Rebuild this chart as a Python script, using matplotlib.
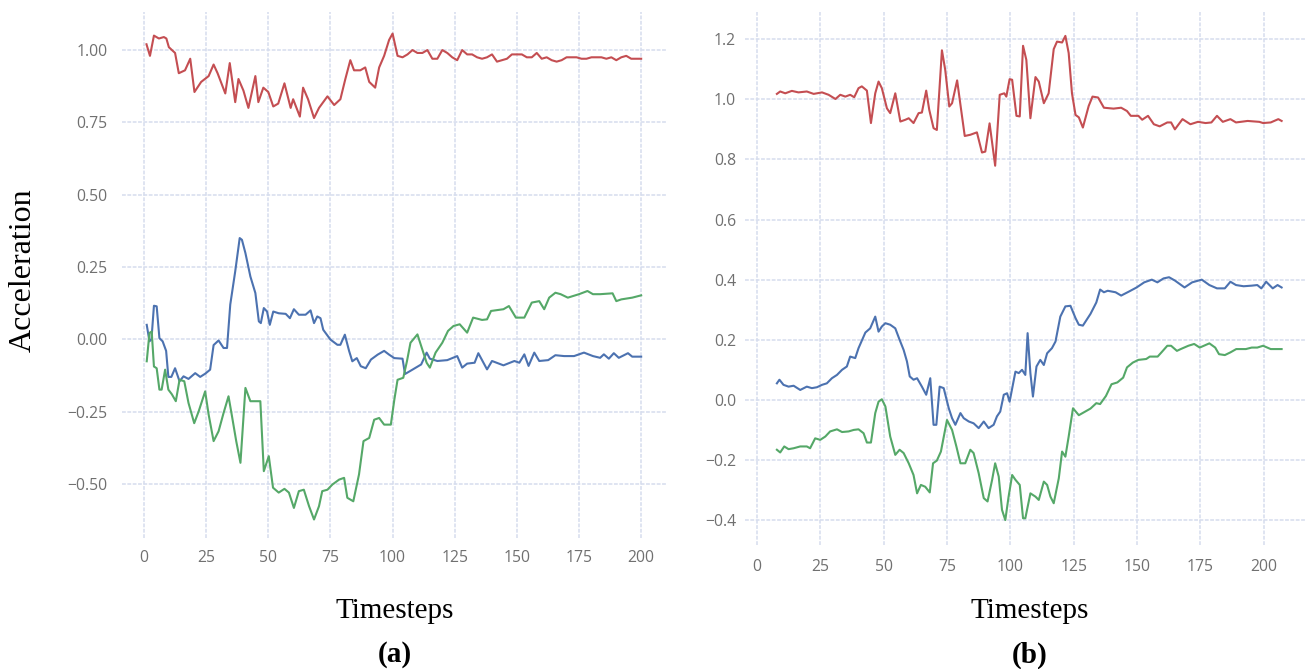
"""
Acceleration over timesteps, two episodes side by side (a) and (b).
"""

import numpy as np
import matplotlib
matplotlib.use("Agg")
import matplotlib.pyplot as plt

# ──────────────────────────────────────────────
# CONFIG
# ──────────────────────────────────────────────

FIG_W, FIG_H, DPI = 13.09, 6.69, 100

COL_RED   = "#c44e52"
COL_BLUE  = "#4c72b0"
COL_GREEN = "#55a868"
GRID_COL  = "#d6ddee"
TICK_COL  = "#707070"
LINE_W    = 1.5
TICK_SIZE = 11.3
SERIF     = "Liberation Serif"

X_TICKS = [0, 25, 50, 75, 100, 125, 150, 175, 200]
Y_TICKS_A = [-0.5, -0.25, 0.0, 0.25, 0.5, 0.75, 1.0]
Y_TICKS_B = [-0.4, -0.2, 0.0, 0.2, 0.4, 0.6, 0.8, 1.0, 1.2]

# ──────────────────────────────────────────────
# DATA  (a)
# ──────────────────────────────────────────────

a_red_t = [1, 2.4, 4, 6, 8, 9, 10, 12.5, 14, 16.5, 18.6, 20.3, 23, 26, 28, 29.6,
           32.7, 34.5, 36.7, 38, 40, 42, 44.8, 46, 48, 50, 52, 54, 56.5, 59, 60,
           62.7, 64, 66, 68.4, 70.4, 73.8, 76.5, 79, 81, 83, 84.5, 87, 89, 90.6,
           93, 94.6, 96.6, 98.6, 100, 102, 104, 106, 108, 110, 112, 114, 116, 118,
           120, 122, 124, 126, 128, 130, 132, 134, 136, 138, 140, 142, 144, 146,
           148, 150, 152, 154, 156, 158, 160, 162, 164, 166, 168, 170, 172, 174,
           176, 178, 180, 182, 184, 186, 188, 190, 192, 194, 196, 198, 200]
a_red = [1.02, 0.98, 1.05, 1.04, 1.045, 1.04, 1.01, 0.99, 0.92, 0.93, 0.97, 0.855,
         0.89, 0.91, 0.95, 0.92, 0.85, 0.955, 0.82, 0.90, 0.86, 0.80, 0.91, 0.82,
         0.87, 0.855, 0.805, 0.815, 0.885, 0.80, 0.83, 0.77, 0.87, 0.83, 0.765,
         0.80, 0.84, 0.81, 0.83, 0.90, 0.965, 0.93, 0.93, 0.94, 0.89, 0.87, 0.94,
         0.98, 1.035, 1.057, 0.98, 0.975, 0.985, 1.0, 0.99, 0.99, 1.0, 0.97, 0.97,
         1.0, 0.99, 0.975, 0.965, 1.0, 0.985, 0.985, 0.975, 0.97, 0.975, 0.985,
         0.96, 0.965, 0.97, 0.985, 0.985, 0.985, 0.975, 0.975, 0.99, 0.97, 0.975,
         0.965, 0.96, 0.965, 0.975, 0.975, 0.975, 0.97, 0.97, 0.975, 0.975, 0.975,
         0.97, 0.975, 0.965, 0.975, 0.98, 0.97, 0.97, 0.97]

a_blue_t = [1.1, 2.2, 3, 4, 5.1, 6.2, 7.5, 8.9, 9.8, 11, 12.5, 14.3, 15.9, 17.9,
            20.6, 22.6, 24.6, 26.6, 28, 30, 32, 33.4, 34.7, 36.7, 38.5, 39.4, 40.8,
            42.8, 44.8, 46.2, 47, 48.2, 49.5, 50.6, 52, 54.2, 57, 58.7, 60.3, 62.3,
            65, 67, 68.4, 69.7, 71, 72.1, 75, 77.8, 79, 80.8, 82.5, 83.8, 85.6, 87.2,
            89.2, 91.3, 94, 96.6, 98.6, 100.7, 104, 105, 107, 111.5, 113.7, 115, 118,
            122, 126, 128, 130, 133, 134.5, 138, 140, 144.6, 149, 151, 153, 154.7,
            157, 159, 162.6, 165.5, 169, 173, 177, 180.6, 183.5, 185, 187, 189, 191,
            194.7, 196.4, 200]
a_blue = [0.05, -0.007, 0.0, 0.116, 0.114, 0.004, -0.007, -0.04, -0.13, -0.13,
          -0.10, -0.145, -0.128, -0.137, -0.117, -0.13, -0.119, -0.105, -0.02,
          -0.004, -0.03, -0.03, 0.12, 0.235, 0.35, 0.344, 0.298, 0.217, 0.16, 0.062,
          0.056, 0.108, 0.096, 0.05, 0.096, 0.09, 0.088, 0.073, 0.104, 0.085, 0.085,
          0.10, 0.056, 0.079, 0.073, 0.033, -0.001, -0.019, -0.019, 0.016, -0.04,
          -0.076, -0.065, -0.093, -0.10, -0.07, -0.053, -0.04, -0.053, -0.065,
          -0.067, -0.12, -0.11, -0.087, -0.046, -0.067, -0.075, -0.072, -0.058,
          -0.098, -0.084, -0.081, -0.048, -0.104, -0.075, -0.09, -0.075, -0.081,
          -0.052, -0.092, -0.046, -0.075, -0.072, -0.055, -0.058, -0.058, -0.046,
          -0.058, -0.064, -0.052, -0.067, -0.048, -0.064, -0.048, -0.06, -0.06]

a_green_t = [1.1, 2.2, 3.1, 4, 5.1, 6.2, 7.1, 8.5, 9.8, 11.2, 12.8, 14.3, 16.2, 17.9,
             20.2, 22, 24.6, 26, 28, 30, 32, 34, 35.4, 37.1, 38.8, 40.8, 42.8, 46.8,
             48.2, 50.2, 51.9, 54.2, 56.5, 58.3, 60.3, 62.3, 64.3, 66.4, 68.4, 70.4,
             71.7, 73.8, 75.8, 78.5, 80.5, 81.8, 84.2, 86.5, 88.3, 90.6, 92.6, 94.6,
             96.6, 99.3, 100.7, 102, 104.3, 105.8, 107.2, 110, 111.5, 113.7, 115,
             117.3, 120, 122.3, 124.5, 127, 130, 132.4, 136, 138, 139.6, 144.6, 146.8,
             149.6, 153, 156, 159, 161, 163, 165.5, 167.6, 170.5, 175, 178.4, 180.6,
             183.5, 188.5, 190, 192, 196.4, 200]
a_green = [-0.076, 0.022, 0.027, -0.094, -0.10, -0.174, -0.174, -0.105, -0.174,
           -0.19, -0.214, -0.14, -0.145, -0.22, -0.29, -0.249, -0.18, -0.26, -0.352,
           -0.318, -0.255, -0.197, -0.266, -0.352, -0.427, -0.168, -0.214, -0.214,
           -0.456, -0.404, -0.513, -0.53, -0.517, -0.53, -0.583, -0.525, -0.52,
           -0.577, -0.623, -0.577, -0.525, -0.52, -0.502, -0.485, -0.479, -0.548,
           -0.56, -0.467, -0.352, -0.341, -0.278, -0.272, -0.295, -0.295, -0.209,
           -0.14, -0.133, -0.075, -0.012, 0.017, -0.023, -0.081, -0.098, -0.046,
           -0.012, 0.029, 0.046, 0.052, 0.023, 0.075, 0.067, 0.069, 0.098, 0.104,
           0.115, 0.075, 0.075, 0.127, 0.132, 0.104, 0.144, 0.161, 0.156, 0.144,
           0.156, 0.167, 0.156, 0.156, 0.159, 0.132, 0.138, 0.144, 0.152]

# ──────────────────────────────────────────────
# DATA  (b)
# ──────────────────────────────────────────────

b_red_t = [7.9, 9.2, 11.2, 13.8, 16.4, 19.7, 22.4, 25.7, 28.3, 31, 32.9, 34.9, 36.8,
           38.4, 40.1, 41.4, 43.4, 45, 46.7, 48, 49.3, 51.3, 52.6, 54.6, 56.6, 58.6,
           59.9, 61.8, 63.8, 65.1, 66.8, 68, 69.7, 71, 73, 74.3, 75.9, 77, 79, 80.3,
           82, 84.2, 86.8, 88.8, 90.1, 91.8, 94, 95.8, 97.6, 98.4, 99.7, 100.7,
           102.4, 103.7, 105, 106.3, 107.9, 109.9, 111.2, 113.2, 115.1, 117.1, 118.4,
           120.4, 121.7, 123, 124.3, 125.7, 127, 128.6, 130.9, 132.4, 134.6, 136.9,
           140.7, 143.7, 146, 147.5, 150.5, 152, 154.3, 156.6, 158.9, 161.9, 163.4,
           164.9, 167.9, 171, 174, 177, 179.3, 181.5, 183.8, 186.8, 189, 193.6,
           198.2, 199.7, 202.7, 205.7, 207]
b_red = [1.018, 1.026, 1.02, 1.028, 1.023, 1.026, 1.018, 1.023, 1.015, 1.001, 1.015,
         1.009, 1.015, 1.007, 1.037, 1.043, 1.029, 0.921, 1.02, 1.059, 1.037, 0.97,
         0.954, 1.02, 0.926, 0.932, 0.937, 0.921, 0.954, 0.956, 1.029, 0.965, 0.904,
         0.898, 1.163, 1.098, 0.976, 0.987, 1.063, 0.982, 0.878, 0.882, 0.89, 0.823,
         0.826, 0.92, 0.779, 1.015, 1.02, 1.009, 1.067, 1.065, 0.945, 0.943, 1.178,
         1.131, 0.937, 1.074, 1.059, 0.987, 1.02, 1.167, 1.192, 1.189, 1.211, 1.154,
         1.02, 0.948, 0.94, 0.906, 0.978, 1.009, 1.006, 0.972, 0.969, 0.972, 0.961,
         0.945, 0.945, 0.932, 0.945, 0.917, 0.91, 0.923, 0.923, 0.90, 0.934, 0.917,
         0.925, 0.921, 0.923, 0.945, 0.925, 0.934, 0.923, 0.928, 0.925, 0.921, 0.923,
         0.934, 0.928]

b_blue_t = [7.9, 8.9, 10.5, 12.5, 14.5, 17.1, 19.7, 21.7, 23.7, 25.7, 27.6, 29.6,
            31.6, 33.6, 35.5, 36.8, 38.8, 40.1, 42.8, 44.7, 46.7, 48, 49.3, 50.7,
            52.6, 54.6, 56.3, 57.9, 59.2, 60.3, 61.8, 63.2, 65.1, 66.8, 68.4, 69.7,
            70.8, 72.1, 73.7, 75.7, 77, 78.3, 80.3, 81.6, 83.6, 85.5, 87.5, 89.5,
            91.4, 93.4, 94.7, 96, 97.4, 98.7, 99.7, 102, 103.3, 104.6, 105.9, 106.8,
            107.9, 108.9, 110.3, 111.8, 113.2, 114.5, 116.4, 117.8, 119.7, 121.7,
            123.7, 125.7, 127, 128.6, 131.6, 133.9, 135.4, 136.9, 138.4, 141.5,
            143.7, 146.7, 149.8, 152.8, 155.8, 158, 160.4, 162.6, 164.9, 168.7,
            171.7, 175.5, 178.5, 181.5, 184.6, 186.8, 189, 192, 195.2, 197.4, 199,
            200.9, 203.5, 205.4, 207]
b_blue = [0.055, 0.067, 0.05, 0.044, 0.047, 0.033, 0.044, 0.039, 0.042, 0.05, 0.055,
          0.072, 0.083, 0.10, 0.111, 0.144, 0.139, 0.172, 0.224, 0.238, 0.277, 0.227,
          0.244, 0.255, 0.25, 0.238, 0.20, 0.166, 0.128, 0.078, 0.067, 0.072, 0.044,
          0.017, 0.072, -0.083, -0.083, 0.044, 0.039, -0.028, -0.061, -0.083,
          -0.044, -0.061, -0.072, -0.078, -0.094, -0.072, -0.094, -0.083, -0.055,
          -0.039, 0.017, 0.022, -0.006, 0.094, 0.089, 0.10, 0.083, 0.222, 0.089,
          0.011, 0.111, 0.133, 0.116, 0.155, 0.172, 0.194, 0.277, 0.311, 0.313,
          0.272, 0.25, 0.247, 0.286, 0.324, 0.367, 0.358, 0.363, 0.358, 0.347, 0.36,
          0.374, 0.391, 0.40, 0.391, 0.404, 0.408, 0.397, 0.374, 0.391, 0.40, 0.382,
          0.371, 0.371, 0.393, 0.382, 0.378, 0.38, 0.382, 0.371, 0.393, 0.371,
          0.382, 0.374]

b_green_t = [7.9, 9.2, 10.8, 12.5, 14.5, 17.1, 19.7, 21, 23, 25, 27, 28.9, 31.6,
             33.6, 36.2, 38.2, 40.1, 42.1, 43.4, 45, 46.7, 48, 49.3, 50.7, 52.6,
             54.6, 56.3, 57.9, 59.9, 61.8, 63.2, 64.7, 66.4, 68.2, 69.5, 71, 72.6,
             75, 77, 78.7, 80.3, 82.2, 84.2, 85.5, 87.5, 89.5, 91, 92.8, 94, 95.4,
             96.7, 98, 99.3, 100.7, 102, 103.7, 105, 105.9, 107.9, 109.9, 111.2,
             113.2, 114.5, 115.8, 117.1, 119.1, 120.4, 121.7, 123, 124.7, 127, 129.3,
             131.6, 133.9, 135.4, 137.7, 139.9, 142.2, 144.5, 146, 148.3, 150.5,
             153.6, 155, 158.1, 159.6, 161.9, 163.4, 165.7, 167.2, 170.2, 172.5,
             174.7, 178.5, 180.8, 182.3, 184.6, 186.8, 189.1, 192.9, 195.2, 197.4,
             199.7, 202.7, 205, 207]
b_green = [-0.166, -0.175, -0.155, -0.164, -0.161, -0.155, -0.155, -0.161, -0.128,
           -0.133, -0.122, -0.105, -0.098, -0.107, -0.105, -0.10, -0.098, -0.111,
           -0.142, -0.142, -0.044, -0.006, 0.002, -0.022, -0.122, -0.183, -0.166,
           -0.177, -0.211, -0.25, -0.311, -0.283, -0.289, -0.308, -0.211, -0.202,
           -0.172, -0.067, -0.10, -0.155, -0.211, -0.211, -0.166, -0.177, -0.244,
           -0.327, -0.338, -0.266, -0.211, -0.255, -0.366, -0.40, -0.322, -0.25,
           -0.266, -0.283, -0.394, -0.394, -0.311, -0.322, -0.333, -0.272, -0.283,
           -0.322, -0.344, -0.261, -0.172, -0.189, -0.122, -0.028, -0.051, -0.04,
           -0.029, -0.011, -0.014, 0.013, 0.052, 0.058, 0.074, 0.108, 0.124, 0.133,
           0.136, 0.144, 0.144, 0.158, 0.18, 0.18, 0.163, 0.169, 0.18, 0.186, 0.174,
           0.188, 0.174, 0.152, 0.149, 0.158, 0.169, 0.169, 0.174, 0.174, 0.18,
           0.169, 0.169, 0.169]


# ──────────────────────────────────────────────
# HELPERS
# ──────────────────────────────────────────────

def style_axes(ax, xlim, ylim, yticks, xpad, ypad):
    ax.set_xlim(xlim)
    ax.set_ylim(ylim)
    ax.set_xticks(X_TICKS)
    ax.set_yticks(yticks)
    for s in ax.spines.values():
        s.set_visible(False)
    ax.tick_params(axis="both", length=0, labelsize=TICK_SIZE, labelcolor=TICK_COL)
    ax.tick_params(axis="x", pad=xpad)
    ax.tick_params(axis="y", pad=ypad)
    for lbl in ax.get_xticklabels() + ax.get_yticklabels():
        lbl.set_family("Open Sans")
    # helles, fein gepunktetes Gitter
    ax.grid(True, color=GRID_COL, lw=1.1, ls=(0, (2.5, 1)))
    ax.set_axisbelow(True)


def draw(ax, series):
    for t, v, c in series:
        ax.plot(t, v, color=c, lw=LINE_W, solid_joinstyle="round")


# ──────────────────────────────────────────────
# PLOT
# ──────────────────────────────────────────────

fig = plt.figure(figsize=(FIG_W, FIG_H), dpi=DPI)
fig.patch.set_facecolor("white")

ax_a = fig.add_axes([0.0932, 0.1958, 0.4156, 0.786])
ax_b = fig.add_axes([0.5691, 0.1853, 0.4278, 0.797])

draw(ax_a, [(a_red_t, a_red, COL_RED),
            (a_blue_t, a_blue, COL_BLUE),
            (a_green_t, a_green, COL_GREEN)])
draw(ax_b, [(b_red_t, b_red, COL_RED),
            (b_blue_t, b_blue, COL_BLUE),
            (b_green_t, b_green, COL_GREEN)])

style_axes(ax_a, (-8.85, 210), (-0.687, 1.131), Y_TICKS_A, xpad=8.5, ypad=10.5)
style_axes(ax_b, (-4.7, 216.2), (-0.483, 1.291), Y_TICKS_B, xpad=10, ypad=6.5)

fig.text(23 / 1309, 1 - 270 / 669, "Acceleration", rotation=90,
         ha="center", va="center", fontsize=23, family=SERIF)
for cx, tag in [(395, "(a)"), (1030, "(b)")]:
    fig.text(cx / 1309, 1 - 611 / 669, "Timesteps",
             ha="center", va="center", fontsize=21, family=SERIF)
    fig.text(cx / 1309, 1 - 655 / 669, tag,
             ha="center", va="center", fontsize=21, family=SERIF, weight="bold")

fig.savefig("out.png", dpi=DPI, facecolor="white")
plt.close(fig)
